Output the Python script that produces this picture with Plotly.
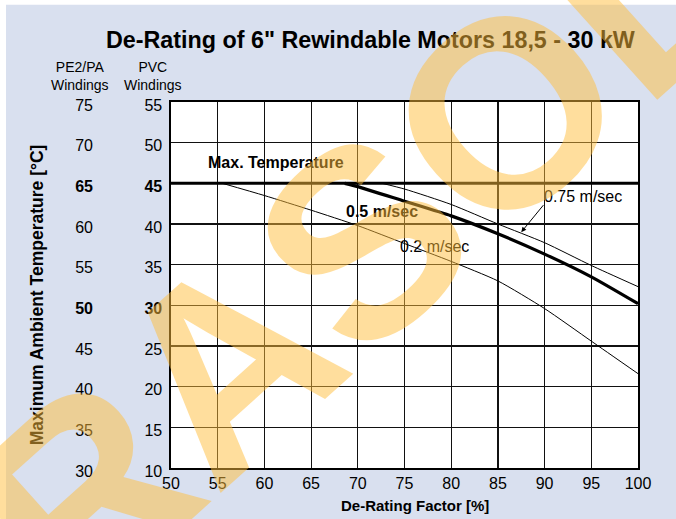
import plotly.graph_objects as go

# ---- data ----
speed_02_x = [55.5, 60, 65, 70, 75, 80, 85, 90, 95, 100]
speed_02_y = [45, 43.5, 41.7, 39.8, 37.6, 35.4, 33.0, 29.6, 25.6, 21.6]

speed_05_x = [68.6, 70, 75, 80, 85, 90, 95, 100]
speed_05_y = [45, 44.6, 42.8, 41.0, 38.8, 36.3, 33.5, 30.2]

speed_075_x = [72.6, 75, 80, 85, 90, 95, 100]
speed_075_y = [45, 44.3, 42.4, 40.0, 37.7, 34.9, 32.3]

max_temp_x = [50, 100]
max_temp_y = [45, 45]

x_ticks = [50, 55, 60, 65, 70, 75, 80, 85, 90, 95, 100]
pvc_ticks = [10, 15, 20, 25, 30, 35, 40, 45, 50, 55]
pe_ticks = [30, 35, 40, 45, 50, 55, 60, 65, 70, 75]
pvc_bold = [45, 30]
pe_bold = [65, 50]

FONT = "Liberation Sans, Arial, sans-serif"
W, H = 676, 519
ML, MR, MT, MB = 40, 38, 101.5, 51
PLOT_LEFT = 171
pw = W - ML - MR
ph = H - MT - MB
def px_x(px):
    return (px - ML) / pw
def px_y(py):
    return (H - MB - py) / ph

fig = go.Figure()
line_kw = dict(color="black", shape="spline", smoothing=0.6)
fig.add_trace(go.Scatter(x=max_temp_x, y=max_temp_y, mode="lines",
                         line=dict(color="black", width=3), showlegend=False))
fig.add_trace(go.Scatter(x=speed_02_x, y=speed_02_y, mode="lines",
                         line=dict(width=1, **line_kw), showlegend=False))
fig.add_trace(go.Scatter(x=speed_05_x, y=speed_05_y, mode="lines",
                         line=dict(width=3.2, **line_kw), showlegend=False))
fig.add_trace(go.Scatter(x=speed_075_x, y=speed_075_y, mode="lines",
                         line=dict(width=1, **line_kw), showlegend=False))
# invisible trace on PE2/PA axis so it is drawn
fig.add_trace(go.Scatter(x=[50], y=[30], yaxis="y2", mode="markers",
                         marker=dict(opacity=0), showlegend=False, hoverinfo="skip"))

def ticktext(vals, bold):
    return [f"<b>{v}</b>" if v in bold else str(v) for v in vals]

fig.update_layout(
    width=W, height=H,
    margin=dict(l=ML, r=MR, t=MT, b=MB, pad=0),
    paper_bgcolor="#d9e0ef",
    plot_bgcolor="white",
    font=dict(family=FONT, size=16, color="black"),
    xaxis=dict(domain=[px_x(PLOT_LEFT), 1], range=[50, 100],
               tickvals=x_ticks, ticktext=[str(v) for v in x_ticks],
               showgrid=True, gridcolor="#111", gridwidth=1.2,
               showline=True, linecolor="black", linewidth=1.6, mirror=True,
               ticks="", ticklabelstandoff=0, zeroline=False,
               tickfont=dict(size=16)),
    yaxis=dict(range=[10, 55], tickvals=pvc_ticks,
               ticktext=ticktext(pvc_ticks, pvc_bold),
               showgrid=True, gridcolor="#111", gridwidth=1.2,
               showline=True, linecolor="black", linewidth=1.6, mirror=True,
               ticks="", ticklabelstandoff=4, ticklabelshift=3, zeroline=False,
               tickfont=dict(size=16)),
    yaxis2=dict(range=[30, 75], tickvals=pe_ticks,
                ticktext=ticktext(pe_ticks, pe_bold),
                overlaying="y", anchor="free", side="left",
                position=px_x(93), showgrid=False, showline=False,
                ticks="", ticklabelshift=3, zeroline=False, tickfont=dict(size=16)),
    shapes=[
        dict(type="rect", xref="paper", yref="paper", x0=px_x(-2), x1=px_x(6),
             y0=px_y(H + 2), y1=px_y(-2), fillcolor="white", line=dict(width=0),
             layer="below"),
        dict(type="rect", xref="paper", yref="paper", x0=px_x(-2), x1=px_x(W + 2),
             y0=px_y(4), y1=px_y(-2), fillcolor="white", line=dict(width=0),
             layer="below"),
    ],
)

ann = []
# title
ann.append(dict(text="<b>De-Rating of 6\" Rewindable Motors 18,5 - 30 kW</b>",
                xref="paper", yref="paper", x=px_x(370), y=px_y(39),
                xanchor="center", yanchor="middle", showarrow=False,
                font=dict(size=23.3)))
# column headers
ann.append(dict(text="PE2/PA<br>Windings", xref="paper", yref="paper",
                x=px_x(80), y=px_y(75), xanchor="center", yanchor="middle",
                showarrow=False, font=dict(size=14)))
ann.append(dict(text="PVC<br>Windings", xref="paper", yref="paper",
                x=px_x(153), y=px_y(75), xanchor="center", yanchor="middle",
                showarrow=False, font=dict(size=14)))
# axis titles
ann.append(dict(text="<b>Maximum Ambient Temperature [°C]</b>", xref="paper", yref="paper",
                x=px_x(37), y=px_y(295), xanchor="center", yanchor="middle",
                textangle=-90, showarrow=False, font=dict(size=17.5)))
ann.append(dict(text="<b>De-Rating Factor [%]</b>", xref="paper", yref="paper",
                x=px_x(415), y=px_y(506), xanchor="center", yanchor="middle",
                showarrow=False, font=dict(size=15)))
# in-plot labels
ann.append(dict(text="<b>Max. Temperature</b>", x=53.8, y=47.6, xanchor="left",
                yanchor="middle", showarrow=False, font=dict(size=16)))
ann.append(dict(text="<b>0.5 m/sec</b>", x=68.5, y=41.5, xanchor="left",
                yanchor="middle", showarrow=False, font=dict(size=16)))
ann.append(dict(text="0.2 m/sec", x=74.3, y=37.2, xanchor="left",
                yanchor="middle", showarrow=False, font=dict(size=16)))
ann.append(dict(text="0.75 m/sec", x=89.7, y=43.4, xanchor="left",
                yanchor="middle", showarrow=False, font=dict(size=16)))
ann.append(dict(text="", x=87.5, y=39.0, ax=90.0, ay=42.5, axref="x", ayref="y",
                showarrow=True, arrowhead=2, arrowsize=1, arrowwidth=1,
                arrowcolor="black"))
# watermark
ann.append(dict(text="<b>BRASOL</b>", xref="paper", yref="paper",
                x=px_x(285), y=px_y(310), xanchor="center", yanchor="middle",
                textangle=-42, showarrow=False,
                font=dict(size=266, color="rgba(255,190,60,0.5)")))
fig.update_layout(annotations=ann)

fig.write_html("out.html", config={"displayModeBar": False, "staticPlot": True},
               post_script="document.body.style.margin='0';")
